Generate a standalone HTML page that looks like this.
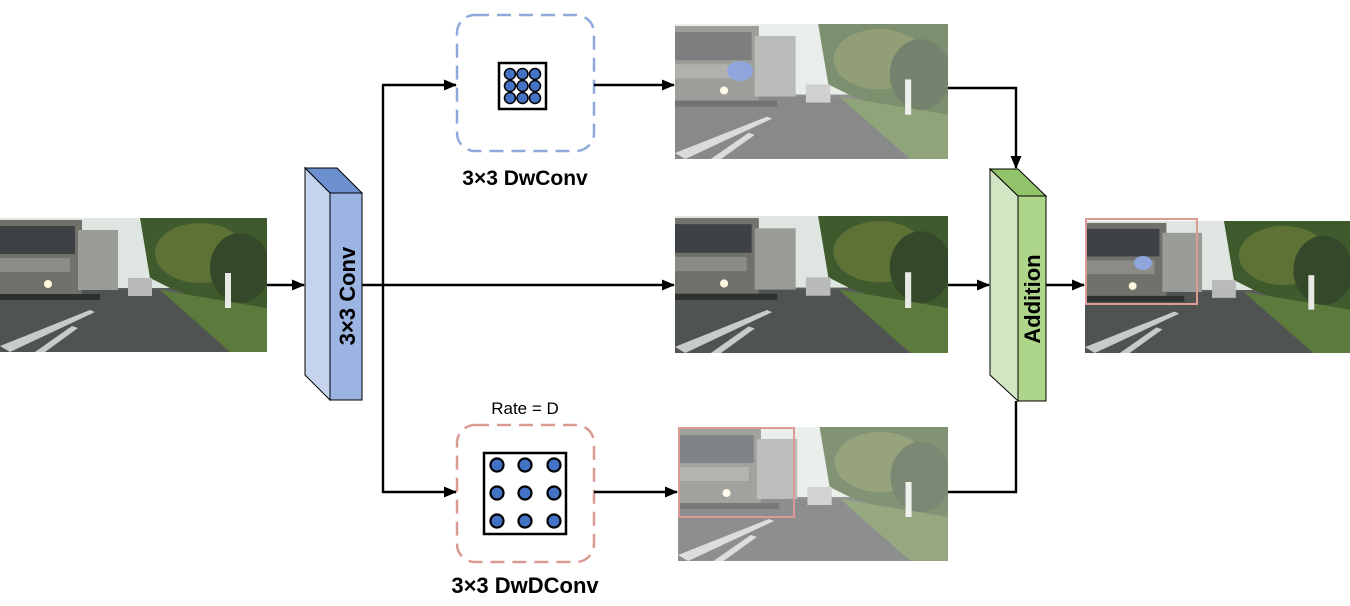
<!DOCTYPE html>
<html><head><style>
html,body{margin:0;padding:0;background:#fff;}
body{width:1350px;height:601px;overflow:hidden;}
</style></head><body>
<svg width="1350" height="601" viewBox="0 0 1350 601" xmlns="http://www.w3.org/2000/svg" font-family="Liberation Sans, Arial, sans-serif">
<defs>
<symbol id="scene" viewBox="0 0 267 134" preserveAspectRatio="none">
<rect width="267" height="134" fill="#5a5e5c"/>
<rect width="267" height="70" fill="#dfe6e2"/>
<polygon points="140,0 267,0 267,100 200,82 170,70 150,60" fill="#3f5a2c"/>
<ellipse cx="200" cy="35" rx="45" ry="30" fill="#5f7236"/>
<ellipse cx="240" cy="50" rx="30" ry="35" fill="#34492a"/>
<polygon points="160,72 267,90 267,134 230,134" fill="#5c7a3c"/>
<polygon points="0,134 0,72 160,72 230,134" fill="#4f5352"/>
<rect x="0" y="2" width="82" height="78" fill="#6f716a"/>
<rect x="0" y="8" width="75" height="28" fill="#3e4245"/>
<rect x="78" y="12" width="40" height="60" fill="#9a9c98"/>
<rect x="0" y="40" width="70" height="14" fill="#8b8c85"/>
<rect x="0" y="76" width="100" height="6" fill="#2e3030"/>
<circle cx="48" cy="66" r="4" fill="#fff8e0"/>
<rect x="128" y="60" width="24" height="18" fill="#b9bbb8"/>
<rect x="225" y="55" width="6" height="35" fill="#e8e8e4"/>
<polygon points="0,128 90,92 95,94 10,134" fill="#c8ccc9"/>
<polygon points="35,134 72,108 78,110 45,134" fill="#c8ccc9"/>
</symbol>
<marker id="ah" markerWidth="13" markerHeight="11" refX="12" refY="5.5" orient="auto" markerUnits="userSpaceOnUse">
<polygon points="0,0 13,5.5 0,11" fill="#000"/></marker>
</defs>

<use href="#scene" x="0" y="218" width="267" height="134"/>
<use href="#scene" x="675" y="24" width="273" height="135"/>
<rect x="675" y="24" width="273" height="135" fill="#fff" opacity="0.32"/>
<ellipse cx="740" cy="71" rx="13" ry="10" fill="#8fa6dc"/>
<use href="#scene" x="675" y="216" width="273" height="137"/>
<use href="#scene" x="678" y="427" width="270" height="134"/>
<rect x="678" y="427" width="270" height="134" fill="#fff" opacity="0.35"/>
<rect x="679" y="428" width="115" height="89" fill="none" stroke="#dc9a94" stroke-width="2"/>
<use href="#scene" x="1085" y="221" width="265" height="132"/>
<rect x="1086" y="219" width="111" height="85" fill="none" stroke="#dc9a94" stroke-width="2"/>
<ellipse cx="1143" cy="263" rx="9" ry="7" fill="#8fa6dc"/>

<polygon points="305,168 337,168 362,193 330,193" fill="#6c8fd0" stroke="#000" stroke-width="1"/>
<polygon points="305,168 330,193 330,400 305,375" fill="#c5d3ee" stroke="#000" stroke-width="1"/>
<rect x="330" y="193" width="32" height="207" fill="#9cb4e2" stroke="#000" stroke-width="1"/>
<text transform="translate(355,296) rotate(-90)" text-anchor="middle" font-size="22" font-weight="bold">3×3 Conv</text>

<polygon points="990,169 1018,169 1046,196 1018,196" fill="#92c36a" stroke="#000" stroke-width="1"/>
<polygon points="990,169 1018,196 1018,401 990,375" fill="#d3e6c3" stroke="#000" stroke-width="1"/>
<rect x="1018" y="196" width="28" height="205" fill="#add68a" stroke="#000" stroke-width="1"/>
<text transform="translate(1040,299) rotate(-90)" text-anchor="middle" font-size="22" font-weight="bold">Addition</text>

<rect x="457" y="15" width="137" height="136" rx="18" fill="none" stroke="#8fa9dc" stroke-width="2.5" stroke-dasharray="14,8"/>
<rect x="457" y="425" width="137" height="137" rx="18" fill="none" stroke="#d99a94" stroke-width="2.5" stroke-dasharray="14,8"/>
<rect x="499" y="63" width="47" height="46" fill="#fff" stroke="#000" stroke-width="2.5"/>
<g fill="#4472c4" stroke="#000" stroke-width="1.5">
<circle cx="510" cy="74" r="5.5"/><circle cx="522.5" cy="74" r="5.5"/><circle cx="535" cy="74" r="5.5"/>
<circle cx="510" cy="86" r="5.5"/><circle cx="522.5" cy="86" r="5.5"/><circle cx="535" cy="86" r="5.5"/>
<circle cx="510" cy="98" r="5.5"/><circle cx="522.5" cy="98" r="5.5"/><circle cx="535" cy="98" r="5.5"/>
</g>
<rect x="484" y="453" width="82" height="81" fill="#fff" stroke="#000" stroke-width="2.5"/>
<g fill="#4472c4" stroke="#000" stroke-width="2.2">
<circle cx="497" cy="465" r="6.5"/><circle cx="525" cy="465" r="6.5"/><circle cx="554" cy="465" r="6.5"/>
<circle cx="497" cy="493" r="6.5"/><circle cx="525" cy="493" r="6.5"/><circle cx="554" cy="493" r="6.5"/>
<circle cx="497" cy="521" r="6.5"/><circle cx="525" cy="521" r="6.5"/><circle cx="554" cy="521" r="6.5"/>
</g>
<text x="525" y="185" text-anchor="middle" font-size="21" font-weight="bold">3×3 DwConv</text>
<text x="525" y="414" text-anchor="middle" font-size="17">Rate = D</text>
<text x="525" y="593" text-anchor="middle" font-size="22" font-weight="bold">3×3 DwDConv</text>

<g stroke="#000" stroke-width="2.4" fill="none">
<line x1="267" y1="285" x2="304" y2="285" marker-end="url(#ah)"/>
<line x1="362" y1="285" x2="674" y2="285" marker-end="url(#ah)"/>
<polyline points="383,85 383,492 456,492" marker-end="url(#ah)"/>
<line x1="382" y1="85" x2="456" y2="85" marker-end="url(#ah)"/>
<line x1="594" y1="85" x2="674" y2="85" marker-end="url(#ah)"/>
<line x1="594" y1="492" x2="677" y2="492" marker-end="url(#ah)"/>
<polyline points="948,88 1016,88 1016,168" marker-end="url(#ah)"/>
<line x1="948" y1="285" x2="989" y2="285" marker-end="url(#ah)"/>
<polyline points="948,492 1016,492 1016,401"/>
<line x1="1046" y1="285" x2="1084" y2="285" marker-end="url(#ah)"/>
</g>
</svg>
</body></html>
